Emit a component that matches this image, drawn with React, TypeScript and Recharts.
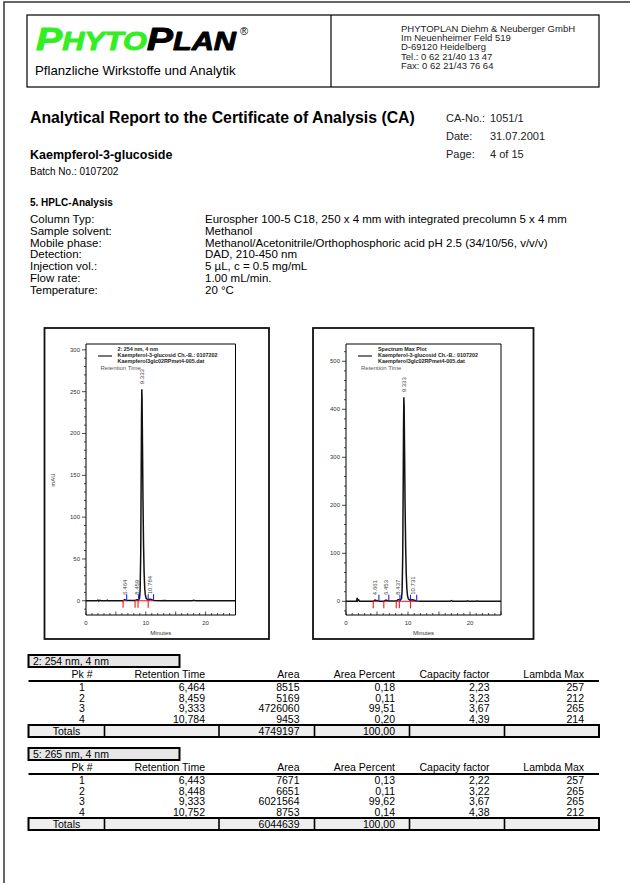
import React from 'react';
import { ComposedChart, Line, Scatter, XAxis, YAxis, ReferenceLine, ReferenceArea } from 'recharts';

const FONT = '"Liberation Sans", Arial, Helvetica, sans-serif';

// letterhead + report header
const addressLines = [
  'PHYTOPLAN Diehm & Neuberger GmbH',
  'Im Neuenheimer Feld 519',
  'D-69120 Heidelberg',
  'Tel.: 0 62 21/40 13 47',
  'Fax: 0 62 21/43 76 64',
];
const metaLabels = ['CA-No.:', 'Date:', 'Page:'];
const metaValues = ['1051/1', '31.07.2001', '4 of 15'];
const methodLabels = ['Column Typ:', 'Sample solvent:', 'Mobile phase:', 'Detection:', 'Injection vol.:', 'Flow rate:', 'Temperature:'];
const methodValues = [
  'Eurospher 100-5 C18, 250 x 4 mm with integrated precolumn 5 x 4 mm',
  'Methanol',
  'Methanol/Acetonitrile/Orthophosphoric acid pH 2.5 (34/10/56, v/v/v)',
  'DAD, 210-450 nm',
  '5 µL, c = 0.5 mg/mL',
  '1.00 mL/min.',
  '20 °C',
];

// chromatogram 254 nm  [minutes, mAU]
const trace254: [number, number][] = [
  [0, 0], [1.8, 0], [2.0, 0.8], [2.15, -0.4], [2.3, 0.6], [2.5, 0], [3.4, 0], [3.55, 0.7], [3.7, -0.3], [3.9, 0],
  [6.2, 0], [6.464, 1.3], [6.8, 0.2], [8.2, 0.2], [8.459, 1.1], [8.75, 0.8], [8.95, 3], [9.05, 12], [9.15, 55],
  [9.22, 140], [9.28, 215], [9.333, 253], [9.38, 240], [9.45, 185], [9.53, 120], [9.62, 68], [9.72, 33], [9.82, 15],
  [9.92, 7], [10.05, 3], [10.3, 1.5], [10.784, 1.8], [11.3, 0.3], [12.5, 0], [13.2, 0.4], [13.5, 0], [17.8, 0],
  [18, 0.5], [18.3, 0], [25, 0],
];
const peakTimes254 = [6.464, 8.459, 9.333, 10.784];
const peakLabels254 = ['6.464', '8.459', '9.333', '10.784'];
const peakHeights254 = [1.3, 1.1, 253, 1.8];
const peakStarts254 = [6.2, 8.2, 8.7, 10.4];
const peakEnds254 = [6.8, 8.8, 10.4, 11.3];
const legend254 = ['2: 254 nm, 4 nm', 'Kaempferol-3-glucosid Ch.-B.: 0107202', 'Kaempferol3glc02RPmet4-005.dat'];
const yLabels254 = [0, 50, 100, 150, 200, 250, 300];

// spectrum max plot  [minutes, mAU]
const traceMax: [number, number][] = [
  [0, 0], [1.7, 0], [1.8, 7], [1.9, 1], [2.05, 3], [2.2, 0], [4.4, 0], [4.661, 2.5], [5.3, 0.3], [6.1, 0.3],
  [6.453, 2.8], [6.9, 0.5], [8.1, 0.5], [8.437, 3.5], [8.75, 2.5], [8.95, 6], [9.05, 22], [9.15, 95], [9.22, 230],
  [9.28, 365], [9.333, 425], [9.38, 405], [9.45, 310], [9.53, 200], [9.62, 115], [9.72, 56], [9.82, 25], [9.92, 12],
  [10.05, 5], [10.3, 2.5], [10.731, 3.2], [11.4, 0.5], [12, 0], [16.8, 0], [17, 1.5], [17.2, 0], [19.4, 0],
  [19.6, 1.2], [19.8, 0], [21, 0], [21.15, 1], [21.3, 0], [25, 0],
];
const peakTimesMax = [4.661, 6.453, 8.437, 9.333, 10.731];
const peakLabelsMax = ['4.661', '6.453', '8.437', '9.333', '10.731'];
const peakHeightsMax = [2.5, 2.8, 3.5, 425, 3.2];
const peakStartsMax = [4.4, 6.1, 8.1, 8.6, 10.4];
const peakEndsMax = [5.3, 6.9, 8.7, 10.4, 11.4];
const legendMax = ['Spectrum Max Plot', 'Kaempferol-3-glucosid Ch.-B.: 0107202', 'Kaempferol3glc02RPmet4-005.dat'];
const yLabelsMax = [0, 100, 200, 300, 400, 500];

const xLabels = [0, 10, 20];

// peak tables
const tableHeaders = ['Pk #', 'Retention Time', 'Area', 'Area Percent', 'Capacity factor', 'Lambda Max'];
const pkNumbers = ['1', '2', '3', '4'];
const rt254 = ['6,464', '8,459', '9,333', '10,784'];
const area254 = ['8515', '5169', '4726060', '9453'];
const pct254 = ['0,18', '0,11', '99,51', '0,20'];
const cap254 = ['2,23', '3,23', '3,67', '4,39'];
const lambda254 = ['257', '212', '265', '214'];
const totals254 = ['4749197', '100,00'];
const rt265 = ['6,443', '8,448', '9,333', '10,752'];
const area265 = ['7671', '6651', '6021564', '8753'];
const pct265 = ['0,13', '0,11', '99,62', '0,14'];
const cap265 = ['2,22', '3,22', '3,67', '4,38'];
const lambda265 = ['257', '265', '265', '212'];
const totals265 = ['6044639', '100,00'];

const T = ({ x, y, s, b, a, c, children }: any) => (
  <text x={x} y={y} fontSize={s} fontWeight={b ? 'bold' : 'normal'} textAnchor={a || 'start'}
    dominantBaseline="central" fill={c || '#000'} fontFamily={FONT}>{children}</text>
);

function Chromatogram({ frame, plot, trace, times, labels, heights, starts, ends, legend, yDomain, yLabels, yStep, unit }: any) {
  const w = frame.r - frame.l;
  const h = frame.b - frame.t;
  const data = trace.map(([t, v]: number[]) => ({ t, v }));
  const labelData = times.map((t: number, i: number) => ({ t, v: heights[i], label: labels[i] }));
  const startData = starts.map((t: number) => ({ t, v: 0 }));
  const endData = ends.map((t: number) => ({ t, v: 0 }));
  const yTicks: number[] = [];
  for (let v = Math.ceil(yDomain[0] / yStep) * yStep; v <= yDomain[1]; v += yStep) yTicks.push(v);
  const xTicks: number[] = [];
  for (let t = 0; t <= 25; t++) xTicks.push(t);

  const yTick = (p: any) => {
    const v = p.payload.value;
    const major = yLabels.includes(v);
    return (
      <g>
        <line x1={p.x} x2={p.x - (major ? 4 : 2)} y1={p.y} y2={p.y} stroke="#000" strokeWidth={0.7} />
        {major && <text x={p.x - 6} y={p.y} textAnchor="end" dominantBaseline="central" fontSize={6} fill="#333" fontFamily={FONT}>{v}</text>}
      </g>
    );
  };
  const xTick = (p: any) => {
    const v = p.payload.value;
    return (
      <g>
        <line x1={p.x} x2={p.x} y1={p.y} y2={p.y - (v % 5 === 0 ? 3.5 : 2)} stroke="#000" strokeWidth={0.7} />
        {xLabels.includes(v) && <text x={p.x} y={p.y + 7.7} textAnchor="middle" dominantBaseline="central" fontSize={6} fill="#333" fontFamily={FONT}>{v}</text>}
      </g>
    );
  };
  const blueMark = (p: any) => <line x1={p.cx} x2={p.cx} y1={p.cy} y2={p.cy - 6.5} stroke="#2020ff" strokeWidth={1.1} />;
  const redMark = (p: any) => <line x1={p.cx} x2={p.cx} y1={p.cy} y2={p.cy + 7} stroke="#ff1010" strokeWidth={1.1} />;
  const peakLabel = (p: any) => {
    const x = p.cx;
    const y = p.cy - 5;
    return (
      <text x={x} y={y} transform={`rotate(-90 ${x} ${y})`} fontSize={6} fill="#444" textAnchor="start"
        dominantBaseline="central" fontFamily={FONT}>{p.payload.label}</text>
    );
  };

  const pl = plot.l - frame.l;
  const pt = plot.t - frame.t;
  return (
    <div style={{ position: 'absolute', left: frame.l, top: frame.t, width: w, height: h }}>
      <ComposedChart width={w} height={h} margin={{ top: pt, right: frame.r - plot.r, left: 0, bottom: 0 }}>
        <XAxis type="number" dataKey="t" domain={[0, 25]} allowDataOverflow ticks={xTicks} interval={0}
          tickSize={0} tickMargin={0} axisLine={false} tick={xTick} height={frame.b - plot.b}
          label={{ value: 'Minutes', position: 'insideBottom', offset: 4.5, fontSize: 6, fill: '#333' }} />
        <YAxis type="number" domain={yDomain} allowDataOverflow ticks={yTicks} interval={0}
          tickSize={0} tickMargin={0} axisLine={false} tick={yTick} width={pl} />
        <ReferenceArea x1={0} x2={25} y1={yDomain[0]} y2={yDomain[1]} fill="none" fillOpacity={0} stroke="#000" strokeWidth={1} />
        <Line data={data} dataKey="v" stroke="#111" strokeWidth={1.5} dot={false} isAnimationActive={false} />
        {starts.map((s: number, i: number) => (
          <ReferenceLine key={i} segment={[{ x: s, y: 0 }, { x: ends[i], y: 0 }]} stroke="#ff1010" strokeWidth={1} />
        ))}
        <Scatter data={startData} dataKey="v" shape={redMark} isAnimationActive={false} />
        <Scatter data={endData} dataKey="v" shape={blueMark} isAnimationActive={false} />
        <Scatter data={labelData} dataKey="v" shape={peakLabel} isAnimationActive={false} />
      </ComposedChart>
      <div style={{ position: 'absolute', left: pl + 12, top: pt + 10.7, width: 14, height: 2, background: '#777' }} />
      {legend.map((s: string, i: number) => (
        <div key={i} style={{ position: 'absolute', left: pl + 32, top: pt + 2.3 + i * 5.7, fontSize: 5.4, lineHeight: '6px', fontWeight: 'bold', whiteSpace: 'nowrap', color: '#222' }}>{s}</div>
      ))}
      <div style={{ position: 'absolute', left: pl + 15, top: pt + 20.5, fontSize: 6, lineHeight: '6px', color: '#555', whiteSpace: 'nowrap' }}>Retention Time</div>
      {unit && (
        <div style={{ position: 'absolute', left: 8.8, top: (plot.t + plot.b) / 2 - frame.t, fontSize: 6, lineHeight: '6px', color: '#333', transform: 'translate(-50%, -50%) rotate(-90deg)', whiteSpace: 'nowrap' }}>{unit}</div>
      )}
    </div>
  );
}

function PeakTable({ top, title, rt, area, pct, cap, lambda, totals }: any) {
  const left = 28.5;
  const right = 599;
  const rightEdges = [205, 299.5, 395, 489.5, 584];
  const dividers = [104.5, 219, 314.5, 409.5, 504.5];
  const cols = [rt, area, pct, cap, lambda];
  const fs = 10.5;
  return (
    <g>
      <rect x={left} y={top} width={151} height={12} fill="#e6e6e6" stroke="#000" strokeWidth={2} />
      <T x={33} y={top + 6} s={fs}>{title}</T>
      <T x={82} y={top + 19} s={fs} a="middle">{tableHeaders[0]}</T>
      {tableHeaders.slice(1).map((hd, i) => <T key={hd} x={rightEdges[i]} y={top + 19} s={fs} a="end">{hd}</T>)}
      <line x1={left} x2={right} y1={top + 26} y2={top + 26} stroke="#000" strokeWidth={2.2} />
      {pkNumbers.map((pk, r) => (
        <g key={pk}>
          <T x={82} y={top + 32 + r * 10.67} s={fs} a="middle">{pk}</T>
          {cols.map((col, c) => <T key={c} x={rightEdges[c]} y={top + 32 + r * 10.67} s={fs} a="end">{col[r]}</T>)}
        </g>
      ))}
      <rect x={left} y={top + 70} width={right - left} height={12} fill="#eeeeee" stroke="#000" strokeWidth={2} />
      {dividers.map((d) => <line key={d} x1={d} x2={d} y1={top + 70} y2={top + 82} stroke="#000" strokeWidth={1.6} />)}
      <T x={66.5} y={top + 76} s={fs} a="middle">Totals</T>
      <T x={rightEdges[1]} y={top + 76} s={fs} a="end">{totals[0]}</T>
      <T x={rightEdges[2]} y={top + 76} s={fs} a="end">{totals[1]}</T>
    </g>
  );
}

export default function App() {
  const green = '#33ee22';
  return (
    <div style={{ position: 'absolute', left: 0, top: 0, width: 630, height: 883, background: '#fff', overflow: 'hidden', fontFamily: FONT }}>
      <svg width={630} height={883} style={{ position: 'absolute', left: 0, top: 0 }}>
        <path d="M4 883 V2 H630" stroke="#333" strokeWidth={1.5} fill="none" />
        <rect x={27} y={15} width={572} height={72} fill="none" stroke="#000" strokeWidth={1.2} />
        <line x1={331} x2={331} y1={15} y2={87} stroke="#000" strokeWidth={1.2} />
        <text x={36} y={50} fontStyle="italic" fontWeight={900} fontFamily={FONT} textLength={200} lengthAdjust="spacingAndGlyphs"
          strokeWidth={0.9} strokeLinejoin="round">
          <tspan fill={green} stroke={green} fontSize={32}>P</tspan><tspan fill={green} stroke={green} fontSize={25}>HYTO</tspan>
          <tspan fill="#000" stroke="#000" fontSize={32}>P</tspan><tspan fill="#000" stroke="#000" fontSize={25}>LAN</tspan>
        </text>
        <T x={240} y={31} s={11}>®</T>
        <T x={35} y={70} s={13.2}>Pflanzliche Wirkstoffe und Analytik</T>
        {addressLines.map((s, i) => <T key={s} x={401} y={28 + i * 9.4} s={9.5} c="#222">{s}</T>)}

        <T x={30} y={117} s={15.8} b>Analytical Report to the Certificate of Analysis (CA)</T>
        {metaLabels.map((s, i) => <T key={s} x={446} y={118 + i * 18} s={11} c="#222">{s}</T>)}
        {metaValues.map((s, i) => <T key={s} x={490} y={118 + i * 18} s={11} c="#222">{s}</T>)}
        <T x={30} y={155} s={12.5} b>Kaempferol-3-glucoside</T>
        <T x={30} y={171} s={10}>Batch No.: 0107202</T>

        <T x={30} y={202} s={10} b>5. HPLC-Analysis</T>
        {methodLabels.map((s, i) => <T key={s} x={30} y={219 + i * 11.8} s={11.5}>{s}</T>)}
        {methodValues.map((s, i) => <T key={s} x={205} y={219 + i * 11.8} s={11.5}>{s}</T>)}

        <rect x={44.5} y={328} width={224.5} height={311} fill="none" stroke="#111" strokeWidth={1.8} />
        <rect x={313} y={328} width={220.5} height={311} fill="none" stroke="#111" strokeWidth={1.8} />

        <PeakTable top={655} title="2: 254 nm, 4 nm" rt={rt254} area={area254} pct={pct254} cap={cap254} lambda={lambda254} totals={totals254} />
        <PeakTable top={748} title="5: 265 nm, 4 nm" rt={rt265} area={area265} pct={pct265} cap={cap265} lambda={lambda265} totals={totals265} />
      </svg>

      <Chromatogram
        frame={{ l: 44.5, t: 328, r: 269, b: 639 }} plot={{ l: 85.5, t: 344, r: 235, b: 615 }}
        trace={trace254} times={peakTimes254} labels={peakLabels254} heights={peakHeights254}
        starts={peakStarts254} ends={peakEnds254} legend={legend254}
        yDomain={[-17, 307]} yLabels={yLabels254} yStep={10} unit="mAU" />
      <Chromatogram
        frame={{ l: 313, t: 328, r: 533.5, b: 639 }} plot={{ l: 346, t: 344, r: 501, b: 615 }}
        trace={traceMax} times={peakTimesMax} labels={peakLabelsMax} heights={peakHeightsMax}
        starts={peakStartsMax} ends={peakEndsMax} legend={legendMax}
        yDomain={[-28.5, 536]} yLabels={yLabelsMax} yStep={20} />
    </div>
  );
}
